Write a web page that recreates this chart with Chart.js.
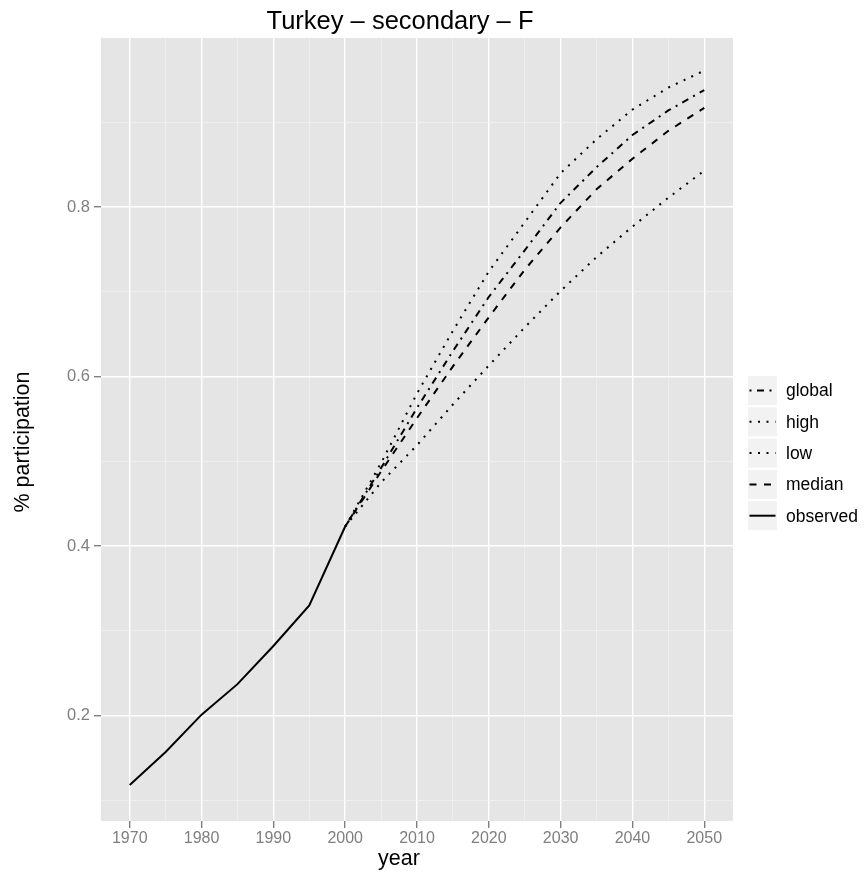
<!DOCTYPE html>
<html>
<head>
<meta charset="utf-8">
<script src="https://cdn.jsdelivr.net/npm/chart.js@4.4.1/dist/chart.umd.min.js"></script>
<style>
    html, body { margin: 0; padding: 0; background: #fff; }
    canvas { display: block; }
</style>
</head>
<body>
<canvas id="chart" width="864" height="877"></canvas>
<script>
// ===== Data =====
const obsYears = [1970, 1975, 1980, 1985, 1990, 1995, 2000];
const observed = [0.118, 0.157, 0.201, 0.237, 0.282, 0.330, 0.423];

const projYears = [2000, 2005, 2010, 2015, 2020, 2025, 2030, 2035, 2040, 2045, 2050];
const high   = [0.423, 0.498, 0.580, 0.654, 0.724, 0.782, 0.840, 0.880, 0.915, 0.941, 0.961];
const global = [0.423, 0.492, 0.563, 0.630, 0.694, 0.749, 0.805, 0.847, 0.885, 0.914, 0.938];
const median = [0.423, 0.488, 0.551, 0.612, 0.670, 0.726, 0.776, 0.821, 0.857, 0.890, 0.917];
const low    = [0.423, 0.475, 0.519, 0.567, 0.613, 0.658, 0.701, 0.741, 0.777, 0.811, 0.843];

const xMajor = [1970, 1980, 1990, 2000, 2010, 2020, 2030, 2040, 2050];
const xMinor = [1975, 1985, 1995, 2005, 2015, 2025, 2035, 2045];
const yMajor = [0.2, 0.4, 0.6, 0.8];
const yMinor = [0.1, 0.3, 0.5, 0.7, 0.9];

const legendOrder = ['global', 'high', 'low', 'median', 'observed'];

const FONT = '"Liberation Sans", Arial, Helvetica, sans-serif';
const GREY = '#7f7f7f';

const pts = (xs, ys) => xs.map((x, i) => ({ x, y: ys[i] }));
const isMajor = (list, v) => list.some(m => Math.abs(m - v) < 1e-6);

function line(label, xs, ys, dash) {
    return {
        label, data: pts(xs, ys),
        borderColor: '#000', borderWidth: 2, borderDash: dash,
        borderCapStyle: 'butt', pointRadius: 0, tension: 0, fill: false
    };
}

// ===== Plugins =====
const panelBg = {
    id: 'panelBg',
    beforeDraw(chart) {
        const { ctx, chartArea: a } = chart;
        ctx.save();
        ctx.fillStyle = '#e5e5e5';
        ctx.fillRect(a.left, a.top, a.right - a.left, a.bottom - a.top);
        ctx.restore();
    }
};

const texts = {
    id: 'texts',
    afterDraw(chart) {
        const ctx = chart.ctx;
        ctx.save();
        ctx.fillStyle = '#000';
        ctx.textAlign = 'center';
        ctx.textBaseline = 'alphabetic';

        ctx.font = `25.5px ${FONT}`;
        ctx.fillText('Turkey \u2013 secondary \u2013 F', 400, 29);

        ctx.font = `21.5px ${FONT}`;
        ctx.fillText('year', 399, 865);

        ctx.save();
        ctx.translate(28.5, 442);
        ctx.rotate(-Math.PI / 2);
        ctx.fillText('% participation', 0, 0);
        ctx.restore();

        // legend
        const keyX = 748, keyW = 29, keyH = 29, top0 = 376, pitch = 31.3;
        ctx.font = `17.5px ${FONT}`;
        ctx.textAlign = 'left';
        ctx.textBaseline = 'middle';
        legendOrder.forEach((name, i) => {
            const ds = chart.data.datasets.find(d => d.label === name);
            const y0 = top0 + i * pitch;
            ctx.fillStyle = '#f2f2f2';
            ctx.fillRect(keyX, y0, keyW, keyH);
            ctx.beginPath();
            ctx.setLineDash(ds.borderDash || []);
            ctx.lineCap = 'butt';
            ctx.lineWidth = ds.borderWidth;
            ctx.strokeStyle = ds.borderColor;
            ctx.moveTo(keyX + 1.5, y0 + keyH / 2);
            ctx.lineTo(keyX + keyW - 1.5, y0 + keyH / 2);
            ctx.stroke();
            ctx.setLineDash([]);
            ctx.fillStyle = '#000';
            ctx.fillText(name, 786, y0 + keyH / 2 + 1);
        });
        ctx.restore();
    }
};

// ===== Chart =====
const gridColor = (major) => (c) => isMajor(major, c.tick.value) ? '#ffffff' : '#f2f2f2';
const gridWidth = (major) => (c) => isMajor(major, c.tick.value) ? 1.4 : 0.7;
const tickCol = (major) => (c) => isMajor(major, c.tick.value) ? GREY : 'rgba(0,0,0,0)';

new Chart(document.getElementById('chart').getContext('2d'), {
    type: 'line',
    data: {
        datasets: [
            line('observed', obsYears, observed, []),
            line('global', projYears, global, [2, 5.5, 7, 5.5]),
            line('high', projYears, high, [2, 6.5]),
            line('low', projYears, low, [2, 6.5]),
            line('median', projYears, median, [7, 7.5])
        ]
    },
    options: {
        responsive: false,
        animation: false,
        devicePixelRatio: 1,
        layout: { padding: { left: 0, top: 38, right: 131, bottom: 16 } },
        plugins: { legend: { display: false }, title: { display: false }, tooltip: { enabled: false } },
        scales: {
            x: {
                type: 'linear', min: 1966, max: 2054,
                afterFit: s => { s.height = 40; },
                afterBuildTicks: s => { s.ticks = [...xMajor, ...xMinor].sort((a, b) => a - b).map(v => ({ value: v })); },
                border: { display: false },
                grid: { color: gridColor(xMajor), lineWidth: gridWidth(xMajor), tickColor: tickCol(xMajor), tickLength: 7, tickWidth: 1.4 },
                ticks: {
                    autoSkip: false, maxRotation: 0, padding: 1, color: GREY,
                    font: { family: FONT, size: 16 },
                    callback: v => isMajor(xMajor, v) ? String(v) : ''
                }
            },
            y: {
                type: 'linear', min: 0.0755, max: 0.9995,
                afterFit: s => { s.width = 101; },
                afterBuildTicks: s => { s.ticks = [...yMajor, ...yMinor].sort((a, b) => a - b).map(v => ({ value: v })); },
                border: { display: false },
                grid: { color: gridColor(yMajor), lineWidth: gridWidth(yMajor), tickColor: tickCol(yMajor), tickLength: 7, tickWidth: 1.4 },
                ticks: {
                    autoSkip: false, padding: 4, color: GREY,
                    font: { family: FONT, size: 16.5 },
                    callback: v => isMajor(yMajor, v) ? v.toFixed(1) : ''
                }
            }
        }
    },
    plugins: [panelBg, texts]
});
</script>
</body>
</html>
